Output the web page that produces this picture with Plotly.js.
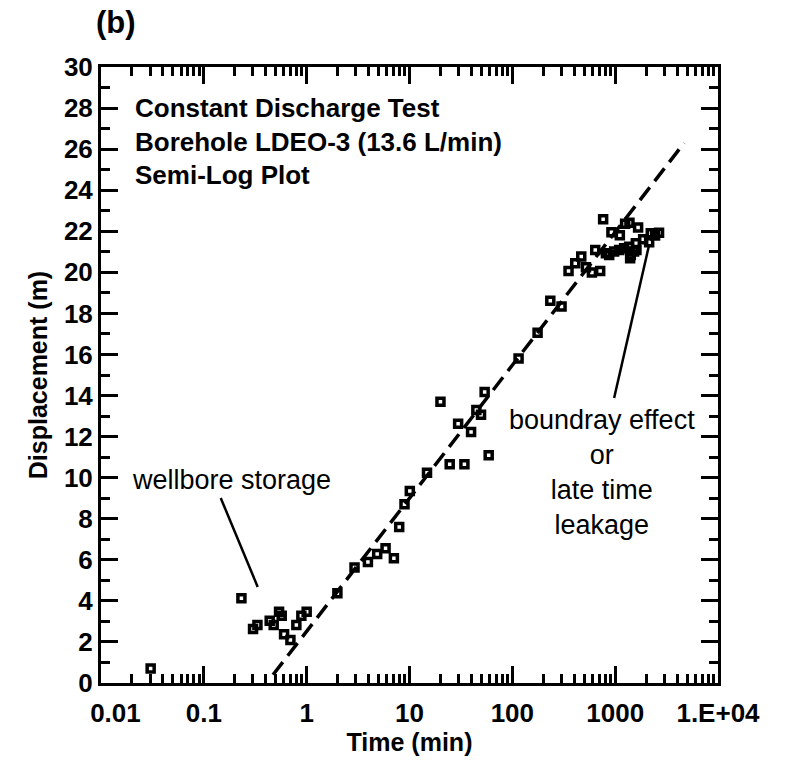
<!DOCTYPE html>
<html>
<head>
<meta charset="utf-8">
<script src="https://cdn.plot.ly/plotly-3.0.1.min.js"></script>
<style>html,body{margin:0;padding:0;background:#fff;}#chart{width:791px;height:761px;}</style>
</head>
<body>
<div id="chart"></div>
<script>
// Measured data: time (min) and displacement (m)
const timeMin = [0.0304, 0.232, 0.301, 0.332, 0.437, 0.478, 0.539, 0.572, 0.603, 0.695, 0.794, 0.888, 1.0,
  1.99, 2.92, 3.94, 4.85, 5.85, 7.05, 7.94, 8.94, 10.07, 14.8, 20.0, 24.6, 29.7, 34.2, 39.7, 44.7, 49.6, 53.8, 58.9,
  115, 176, 234, 301, 352, 409, 468, 520, 594, 640, 715, 764, 813, 875, 920, 978, 1094, 1110, 1223, 1250,
  1367, 1377, 1398, 1419, 1528, 1589, 1610, 1671, 1872, 2140, 2220, 2443, 2671];
const displacementM = [0.71, 4.13, 2.63, 2.83, 3.03, 2.83, 3.47, 3.28, 2.37, 2.09, 2.83, 3.28, 3.47,
  4.37, 5.63, 5.89, 6.28, 6.56, 6.07, 7.60, 8.70, 9.35, 10.24, 13.70, 10.65, 12.63, 10.65, 12.23, 13.30, 13.07, 14.17, 11.09,
  15.80, 17.06, 18.62, 18.33, 20.07, 20.44, 20.77, 20.25, 19.99, 21.09, 20.07, 22.59, 20.93, 20.85, 21.95, 21.01, 21.09, 21.80, 21.17, 22.36,
  21.25, 22.42, 20.69, 20.85, 21.01, 21.42, 21.09, 22.18, 21.61, 21.47, 21.90, 21.79, 21.93];

// Semi-log straight-line fit (dashed)
const fitTime = [0.471, 4680];
const fitDisp = [0.40, 26.3];

// Pointer lines for annotations
const storagePtrTime = [0.146, 0.334];
const storagePtrDisp = [9.01, 4.68];
const boundaryPtrTime = [977, 2138];
const boundaryPtrDisp = [13.88, 21.33];

// Tick labels
const xTickVals = [0.01, 0.1, 1, 10, 100, 1000, 10000];
const xTickText = ['\u00a0\u00a0\u00a0\u00a00.01', '0.1', '1', '10', '100', '1000', '1.E+04'];

const minorX = [];
for (let k = -2; k <= 3; k++) for (let d = 2; d <= 9; d++) minorX.push(d * Math.pow(10, k));

const FONT = 'Liberation Sans, Arial, Helvetica, sans-serif';

const traces = [
  {x: fitTime, y: fitDisp, mode: 'lines', type: 'scatter',
   line: {color: '#000', width: 3.5, dash: '16px,8px'}, hoverinfo: 'skip', showlegend: false},
  {x: storagePtrTime, y: storagePtrDisp, mode: 'lines', type: 'scatter',
   line: {color: '#000', width: 2.5}, hoverinfo: 'skip', showlegend: false},
  {x: boundaryPtrTime, y: boundaryPtrDisp, mode: 'lines', type: 'scatter',
   line: {color: '#000', width: 2.5}, hoverinfo: 'skip', showlegend: false},
  {x: timeMin, y: displacementM, mode: 'markers', type: 'scatter',
   marker: {symbol: 'square-open', size: 7, color: '#000', line: {color: '#000', width: 3.5}}, showlegend: false}
];

const axisCommon = {
  showline: true, linecolor: '#000', linewidth: 3, mirror: 'ticks',
  ticks: 'inside', ticklen: 17, tickwidth: 3, tickcolor: '#000',
  showgrid: false, zeroline: false,
  tickfont: {family: FONT, size: 26, color: '#000', weight: 'bold'}
};

const layout = {
  width: 791, height: 761,
  margin: {l: 101, r: 73, t: 67, b: 78},
  paper_bgcolor: '#fff', plot_bgcolor: '#fff',
  showlegend: false,
  xaxis: Object.assign({}, axisCommon, {
    type: 'log', range: [-2, 4],
    tickmode: 'array', tickvals: xTickVals, ticktext: xTickText,
    ticklabelstandoff: 5,
    minor: {tickmode: 'array', tickvals: minorX, ticks: 'inside', ticklen: 9, tickwidth: 3, tickcolor: '#000'},
    title: {text: 'Time (min)', font: {family: FONT, size: 25, color: '#000', weight: 'bold'}, standoff: 6}
  }),
  yaxis: Object.assign({}, axisCommon, {
    range: [0, 30], dtick: 2, tick0: 0,
    minor: {dtick: 1, ticks: 'inside', ticklen: 9, tickwidth: 3, tickcolor: '#000'},
    title: {text: 'Displacement (m)', font: {family: FONT, size: 25, color: '#000', weight: 'bold'}, standoff: 10}
  }),
  annotations: [
    {text: '(b)', xref: 'paper', yref: 'paper', x: 0.024, y: 1.073, xanchor: 'center', yanchor: 'middle',
     showarrow: false, font: {family: FONT, size: 31, color: '#000', weight: 'bold'}},
    {text: 'Constant Discharge Test', xref: 'paper', yref: 'paper', x: 0.052, y: 0.933, xanchor: 'left', yanchor: 'middle',
     showarrow: false, font: {family: FONT, size: 26, color: '#000', weight: 'bold'}},
    {text: 'Borehole LDEO-3 (13.6 L/min)', xref: 'paper', yref: 'paper', x: 0.052, y: 0.879, xanchor: 'left', yanchor: 'middle',
     showarrow: false, font: {family: FONT, size: 26, color: '#000', weight: 'bold'}},
    {text: 'Semi-Log Plot', xref: 'paper', yref: 'paper', x: 0.052, y: 0.825, xanchor: 'left', yanchor: 'middle',
     showarrow: false, font: {family: FONT, size: 26, color: '#000', weight: 'bold'}},
    {text: 'wellbore storage', xref: 'paper', yref: 'paper', x: 0.211, y: 0.3295, xanchor: 'center', yanchor: 'middle',
     showarrow: false, font: {family: FONT, size: 27, color: '#000'}},
    {text: 'boundray effect<br>or<br>late time<br>leakage', xref: 'paper', yref: 'paper', x: 0.812, y: 0.342,
     xanchor: 'center', yanchor: 'middle', align: 'center',
     showarrow: false, font: {family: FONT, size: 27, color: '#000'}}
  ]
};

Plotly.newPlot('chart', traces, layout, {displayModeBar: false, staticPlot: true});
</script>
</body>
</html>
